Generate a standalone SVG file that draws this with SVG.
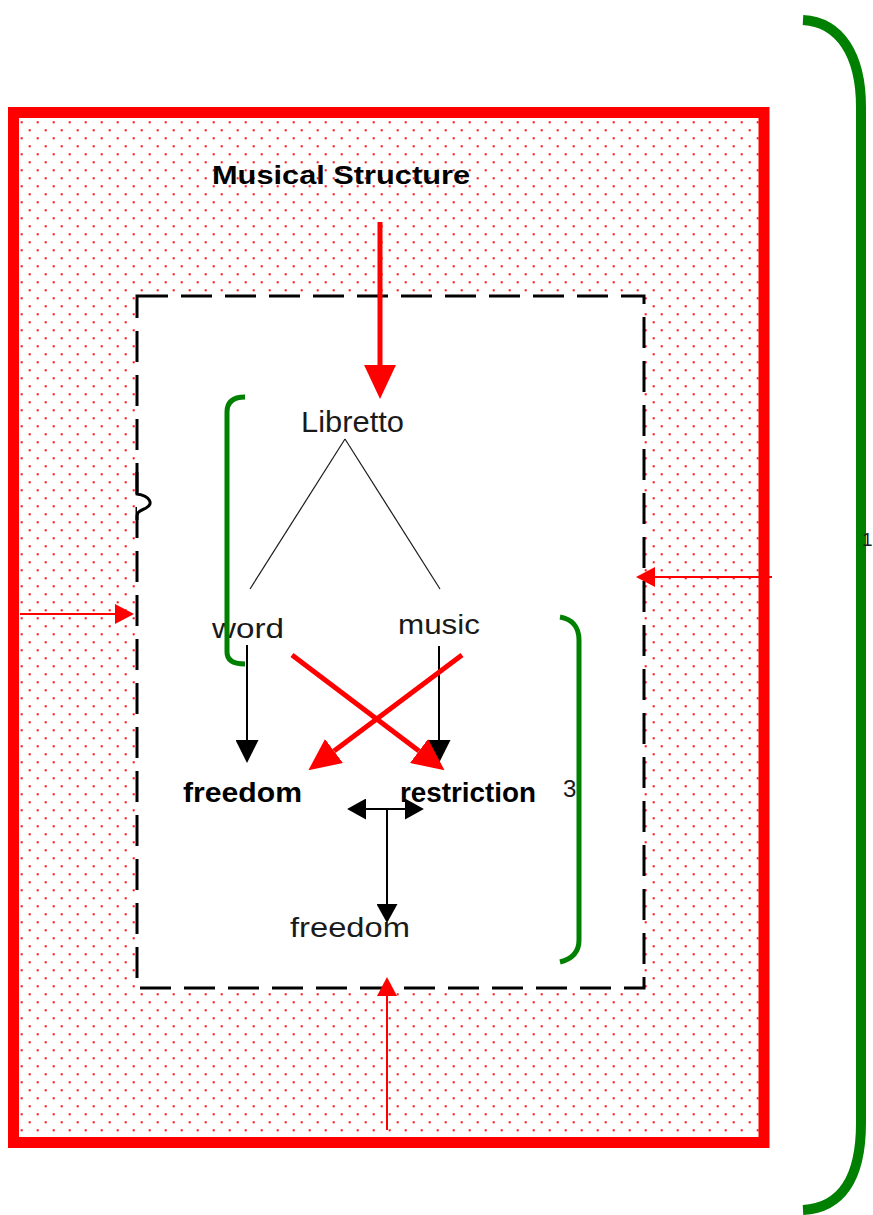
<svg xmlns="http://www.w3.org/2000/svg" width="873" height="1215" viewBox="0 0 873 1215">
<style>
.t{font-family:"Liberation Sans",Arial,sans-serif;fill:#1a1a1a;}
.b{font-weight:bold;fill:#000;}
.red{stroke:#ff0000;fill:none;}
.blk{stroke:#000;fill:none;stroke-width:2;}
.thin{stroke:#1a1a1a;fill:none;stroke-width:1.2;}
.grn{stroke:#008000;fill:none;stroke-linecap:butt;}
</style>
<defs>
<pattern id="dots" patternUnits="userSpaceOnUse" x="17.7" y="118.3" width="16" height="16">
<rect x="3" y="3" width="2" height="2" fill="#ff1010"/>
<rect x="11" y="11" width="2" height="2" fill="#ff1010"/>
</pattern>
<marker id="aRedBig" markerUnits="userSpaceOnUse" markerWidth="34" markerHeight="34" refX="0" refY="15" orient="auto" viewBox="0 0 32 30">
<path d="M0,0 L32,15 L0,30 z" fill="#ff0000"/>
</marker>
<marker id="aRedX" markerUnits="userSpaceOnUse" markerWidth="32" markerHeight="30" refX="0" refY="14" orient="auto" viewBox="0 0 30 28">
<path d="M0,0 L30,14 L0,28 z" fill="#ff0000"/>
</marker>
<marker id="aRedThin" markerUnits="userSpaceOnUse" markerWidth="20" markerHeight="20" refX="0" refY="10" orient="auto" viewBox="0 0 19 20">
<path d="M0,0 L19,10 L0,20 z" fill="#ff0000"/>
</marker>
<marker id="aBlk" markerUnits="userSpaceOnUse" markerWidth="23" markerHeight="23" refX="0" refY="11" orient="auto" viewBox="0 0 22 22">
<path d="M0,0 L22,11 L0,22 z" fill="#000"/>
</marker>
<marker id="aBlkS" markerUnits="userSpaceOnUse" markerWidth="19" markerHeight="21" refX="0" refY="10" orient="auto-start-reverse" viewBox="0 0 18 20">
<path d="M0,0 L18,10 L0,20 z" fill="#000"/>
</marker>
</defs>

<g id="frame-musical-structure">
<rect x="13.5" y="112.5" width="750.5" height="1030" fill="url(#dots)" stroke="#ff0000" stroke-width="11"/>
<text class="t b" x="212" y="184" font-size="25" textLength="258" lengthAdjust="spacingAndGlyphs">Musical Structure</text>
</g>

<g id="inner-box">
<rect x="137" y="296" width="507" height="692" fill="#fff" stroke="#000" stroke-width="3" stroke-dasharray="31 13"/>
<path d="M137,472 L137,494 C150,496 154,504 146,508 C140,511 137,512 137,516 L137,520" fill="#fff" stroke="#000" stroke-width="3"/>
</g>

<g id="node-libretto">
<text class="t" x="301" y="432" font-size="29" textLength="103" lengthAdjust="spacingAndGlyphs">Libretto</text>
</g>
<g id="node-word">
<text class="t" x="212" y="638" font-size="28" textLength="72" lengthAdjust="spacingAndGlyphs">word</text>
</g>
<g id="node-music">
<text class="t" x="398" y="634" font-size="28" textLength="82" lengthAdjust="spacingAndGlyphs">music</text>
</g>
<g id="node-freedom-bold">
<text class="t b" x="183" y="802" font-size="27" textLength="119" lengthAdjust="spacingAndGlyphs">freedom</text>
</g>
<g id="node-restriction">
<text class="t b" x="400" y="802" font-size="27" textLength="136" lengthAdjust="spacingAndGlyphs">restriction</text>
</g>
<g id="node-freedom">
<text class="t" x="290" y="937" font-size="27" textLength="120" lengthAdjust="spacingAndGlyphs">freedom</text>
</g>

<g id="bracket-left">
<path class="grn" stroke-width="5" d="M245,397 C233,397 227,402 227,412 L227,652 C227,660 233,664 245,664"/>
</g>
<g id="bracket-3">
<path class="grn" stroke-width="5" d="M560,617 C572,619 579,627 579,640 L579,940 C579,952 572,959 560,962"/>
<text class="t" x="563" y="797" font-size="24">3</text>
</g>
<g id="bracket-1">
<path class="grn" stroke-width="10" d="M803,20 C840,22 861,55 861,107 L861,1123 C861,1180 840,1208 803,1210"/>
<text class="t" x="862" y="546" font-size="19">1</text>
</g>

<g id="connectors">
<line class="thin" x1="345" y1="439" x2="250" y2="589"/>
<line class="thin" x1="345" y1="439" x2="440" y2="589"/>
<line class="red" stroke-width="5" x1="380" y1="222" x2="380" y2="365" marker-end="url(#aRedBig)"/>
<line class="blk" x1="247" y1="645" x2="247" y2="740" marker-end="url(#aBlk)"/>
<line class="blk" x1="439" y1="646" x2="439" y2="740" marker-end="url(#aBlk)"/>
<line class="red" stroke-width="5" x1="292" y1="655" x2="419" y2="751" marker-end="url(#aRedX)"/>
<line class="red" stroke-width="5" x1="462" y1="655" x2="334" y2="751" marker-end="url(#aRedX)"/>
<line class="blk" x1="366" y1="809" x2="405" y2="809" marker-start="url(#aBlkS)" marker-end="url(#aBlkS)"/>
<line class="blk" x1="387" y1="809" x2="387" y2="904" marker-end="url(#aBlkS)"/>
<line class="red" stroke-width="2" x1="20" y1="614" x2="115" y2="614" marker-end="url(#aRedThin)"/>
<line class="red" stroke-width="2" x1="772" y1="577" x2="655" y2="577" marker-end="url(#aRedThin)"/>
<line class="red" stroke-width="2" x1="387" y1="1130" x2="387" y2="996" marker-end="url(#aRedThin)"/>
</g>
</svg>
